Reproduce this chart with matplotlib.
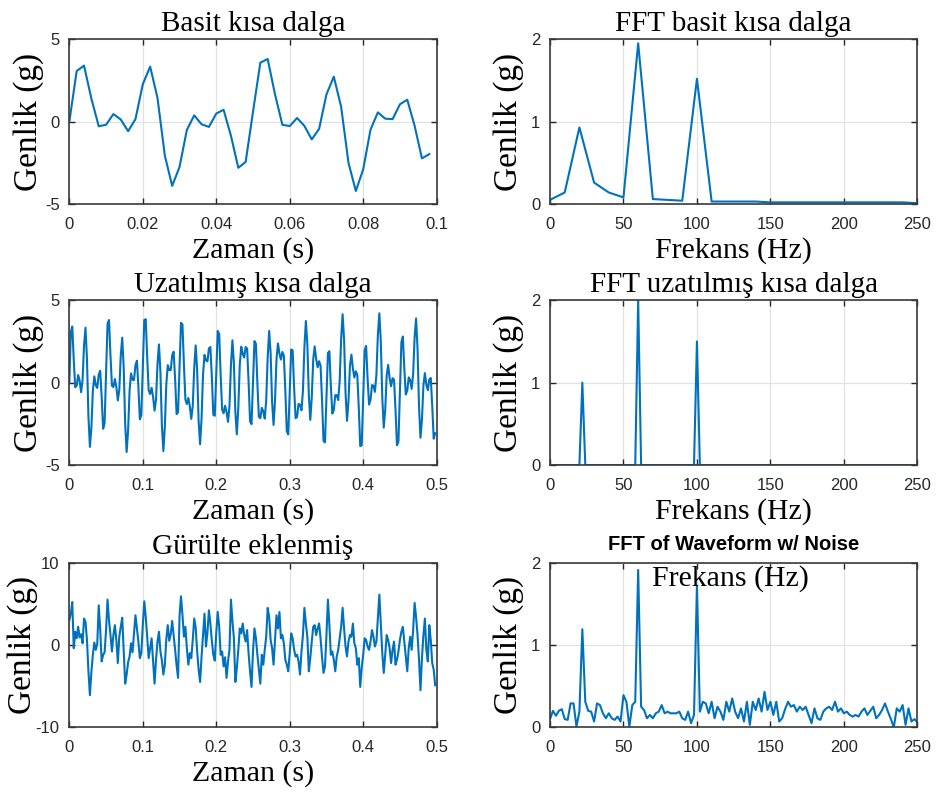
import matplotlib
matplotlib.use('Agg')
import matplotlib.pyplot as plt
import numpy as np

# zaman serileri (g), ornekleme 0.002 s
basit = [0.00, 3.07, 3.40, 1.40, -0.28, -0.19, 0.46, 0.13, -0.58, 0.15,
         2.27, 3.34, 1.44, -2.06, -3.90, -2.75, -0.50, 0.38, -0.16, -0.32,
         0.49, 0.72, -0.86, -2.80, -2.45, 0.59, 3.58, 3.80, 1.65, -0.19,
         -0.27, 0.22, -0.26, -1.08, -0.44, 1.65, 2.73, 0.90, -2.50, -4.21,
         -2.90, -0.48, 0.56, 0.18, 0.15, 1.05, 1.33, -0.25, -2.23, -1.97]

uzun = basit + [
    0.95, 3.80, 3.85, 1.53, -0.47, -0.69, -0.31, -0.86, -1.70, -1.03,
    1.13, 2.32, 0.63, -2.61, -4.15, -2.67, -0.10, 1.06, 0.76, 0.76,
    1.66, 1.88, 0.21, -1.91, -1.80,
    0.95, 3.63, 3.53, 1.07, -1.03, -1.30, -0.93, -1.44, -2.20, -1.41,
    0.90, 2.26, 0.74, -2.34, -3.74, -2.15, 0.49, 1.68, 1.35, 1.29,
    2.08, 2.16, 0.34, -1.95, -2.01,
    0.59, 3.14, 2.95, 0.46, -1.64, -1.86, -1.40, -1.77, -2.38, -1.42,
    1.06, 2.57, 1.18, -1.79, -3.14, -1.53, 1.07, 2.18, 1.74, 1.53,
    2.16, 2.07, 0.08, -2.35, -2.52,
    0.00, 2.52, 2.35, -0.08, -2.07, -2.16, -1.53, -1.74, -2.18, -1.07,
    1.53, 3.14, 1.79, -1.18, -2.57, -1.06, 1.42, 2.38, 1.77, 1.40,
    1.86, 1.64, -0.46, -2.95, -3.14,
    -0.59, 2.01, 1.95, -0.34, -2.16, -2.08, -1.29, -1.35, -1.68, -0.49,
    2.15, 3.74, 2.34, -0.74, -2.26, -0.90, 1.41, 2.20, 1.44, 0.93,
    1.30, 1.03, -1.07, -3.53, -3.63,
    -0.95, 1.80, 1.91, -0.21, -1.88, -1.66, -0.76, -0.76, -1.06, 0.10,
    2.67, 4.15, 2.61, -0.63, -2.32, -1.13, 1.03, 1.70, 0.86, 0.31,
    0.69, 0.47, -1.53, -3.85, -3.80,
    -0.95, 1.97, 2.23, 0.25, -1.33, -1.05, -0.15, -0.18, -0.56, 0.48,
    2.90, 4.21, 2.50, -0.90, -2.73, -1.65, 0.44, 1.08, 0.26, -0.22,
    0.27, 0.19, -1.65, -3.80, -3.58,
    -0.59, 2.45, 2.80, 0.86, -0.72, -0.49, 0.32, 0.16, -0.38, 0.50,
    2.75, 3.90, 2.06, -1.44, -3.34, -2.27, -0.15, 0.58, -0.13, -0.46,
    0.19, 0.28, -1.40, -3.40, -3.07]

gurultulu = [
    3.0, 3.8, 5.2, -0.4, 1.6, 0.8, 2.2, 0.9, 1.3, 0.2,
    3.2, 2.8, 0.6, -3.2, -6.1, -3.3, -1.2, 0.3, -0.6, 0.1,
    4.8, 1.9, -2.0, -1.2, -0.9,
    1.8, 5.5, 3.0, 1.2, -0.8, 1.2, 2.4, 0.6, -2.2, 1.0,
    2.2, 3.3, -0.6, -4.7, -3.6, -2.1, -1.4, 0.2, -0.9, 1.4,
    3.6, 2.0, 0.4, -1.6, -1.0,
    2.4, 5.3, 3.4, 0.9, -1.6, -0.4, 0.8, -2.0, -4.7, -1.8,
    0.4, 1.6, -0.8, -1.9, -3.6, -2.4, 0.7, 2.4, 0.5, 1.3,
    2.9, 1.2, -0.6, -2.5, -4.0,
    3.5, 5.9, 3.6, 1.0, 2.2, -0.4, -2.4, -1.0, -1.6, 0.6,
    3.2, 2.1, -0.8, -3.0, -4.5, -1.4, 1.2, 3.8, -0.2, 1.5,
    4.2, 2.6, 0.5, -1.2, -1.9,
    1.5, 4.0, 2.2, -1.2, -0.8, -2.6, -1.5, -4.0, -2.0, -0.6,
    5.5, 2.9, 0.8, -4.5, -2.8, -0.6, 2.0, 1.4, 2.6, 1.2,
    0.4, 1.8, -1.0, -3.2, -5.1,
    -0.8, 2.0, 0.8, -1.2, -3.0, -4.7, -1.2, -2.4, -0.6, 1.0,
    4.5, 3.4, 0.6, -0.4, -2.4, 0.5, 3.6, 2.0, 4.0, 0.8,
    1.2, 0.2, -1.8, -2.4, -3.2,
    -1.0, 1.4, 0.8, -0.6, -1.4, -1.2, -2.0, -3.6, -0.8, 1.2,
    4.5, 2.6, 1.0, -3.2, -1.6, 0.4, 2.2, 2.4, 1.2, 2.0,
    2.6, 0.8, -1.5, -3.4, -2.6,
    1.2, 5.5, 2.4, -1.2, -0.8, -1.8, -3.2, -1.4, -0.6, 0.8,
    2.2, 4.5, 2.0, -0.2, -1.4, 0.4, 1.2, 1.0, 2.6, 0.2,
    -0.4, -2.4, -1.6, -5.1, -2.8,
    -1.2, 0.8, 0.6, -0.2, -0.6, 0.4, 1.8, 1.0, -0.2, 0.4,
    3.2, 6.1, 2.6, -1.0, -3.4, -1.2, 1.2, 0.6, -0.4, -2.2,
    -0.6, 0.4, -2.4, -1.8, -0.8,
    0.6, 1.6, 2.2, 0.4, -1.4, -3.2, -0.4, 1.0, -0.6, 1.8,
    5.1, 3.4, 1.2, -1.8, -5.5, -1.6, 1.2, 3.2, -0.6, -2.0,
    2.4, 0.6, -2.2, -3.0, -4.9]

# FFT genlikleri
fft_basit = [0.05, 0.14, 0.93, 0.26, 0.14, 0.08, 1.95, 0.06, 0.05, 0.04,
             1.52, 0.03, 0.03, 0.03, 0.03, 0.02, 0.02, 0.02, 0.02, 0.02,
             0.02, 0.02, 0.02, 0.02, 0.02, 0.01]

tepe_frek = [22, 60, 100]
tepe_genlik = [1.0, 2.0, 1.5]

fft_gurultu = [
    0.10, 0.20, 0.14, 0.20, 0.22, 0.10, 0.09, 0.29, 0.29, 0.01,
    0.19, 1.19, 0.31, 0.20, 0.19, 0.07, 0.29, 0.27, 0.17, 0.11,
    0.17, 0.11, 0.09, 0.13, 0.07, 0.39, 0.31, 0.01, 0.27, 0.31,
    1.91, 0.25, 0.21, 0.11, 0.15, 0.11, 0.17, 0.19, 0.27, 0.17,
    0.19, 0.17, 0.17, 0.17, 0.19, 0.11, 0.09, 0.19, 0.05, 0.15,
    1.72, 0.19, 0.31, 0.29, 0.17, 0.31, 0.11, 0.25, 0.19, 0.09,
    0.31, 0.19, 0.35, 0.19, 0.11, 0.23, 0.07, 0.31, 0.03, 0.31,
    0.21, 0.35, 0.19, 0.43, 0.21, 0.31, 0.15, 0.31, 0.07, 0.11,
    0.22, 0.31, 0.25, 0.27, 0.19, 0.25, 0.21, 0.25, 0.15, 0.05,
    0.23, 0.11, 0.09, 0.19, 0.23, 0.25, 0.21, 0.31, 0.19, 0.23,
    0.17, 0.19, 0.15, 0.13, 0.15, 0.13, 0.19, 0.23, 0.15, 0.20,
    0.25, 0.11, 0.15, 0.21, 0.29, 0.19, 0.10, 0.00, 0.23, 0.19,
    0.27, 0.03, 0.23, 0.07, 0.10, 0.06]

t_basit = np.arange(len(basit)) * 0.002
t_uzun = np.arange(len(uzun)) * 0.002
f_basit = np.arange(len(fft_basit)) * 10
f_uzun = np.arange(len(fft_gurultu)) * 2
fft_uzun = np.zeros(len(f_uzun))
for f, a in zip(tepe_frek, tepe_genlik):
    fft_uzun[f // 2] = a

MAVI = '#0072BD'
SERIF = 'Liberation Serif'
SANS = 'Liberation Sans'


def eksen(fig, rect, x, y, xlim, ylim, xticks, xtl, yticks, title,
          xlabel='', bold_title=False, ylab_x=-0.07):
    ax = fig.add_axes(rect)
    ax.plot(x, y, color=MAVI, lw=1.5)
    ax.set_xlim(xlim)
    ax.set_ylim(ylim)
    ax.set_xticks(xticks)
    ax.set_xticklabels(xtl, fontfamily=SANS, fontsize=12)
    ax.set_yticks(yticks)
    ax.set_yticklabels([str(v) for v in yticks], fontfamily=SANS, fontsize=12)
    ax.tick_params(direction='in', length=4, width=1, colors='#262626',
                   top=True, right=True, pad=7)
    ax.tick_params(axis='x', pad=9)
    ax.grid(True, color='#e2e2e2', lw=0.9)
    ax.set_axisbelow(True)
    for s in ax.spines.values():
        s.set_color('#3a3a3a')
        s.set_linewidth(1.2)
    if bold_title:
        ax.set_title(title, fontfamily=SANS, fontsize=14.5, fontweight='bold',
                     pad=9)
    else:
        ax.set_title(title, fontfamily=SERIF, fontsize=21, pad=6)
    ax.set_ylabel('Genlik (g)', fontfamily=SERIF, fontsize=24)
    ax.yaxis.set_label_coords(ylab_x, 0.5)
    if xlabel:
        ax.set_xlabel(xlabel, fontfamily=SERIF, fontsize=21.5, labelpad=4)
    return ax


fig = plt.figure(figsize=(9.37, 7.96), dpi=100)

sol_x, sag_x, gen = 0.074, 0.587, 0.392
alt = [0.7437, 0.4158, 0.0863]
yuk = 0.207

zt1 = [0, 0.02, 0.04, 0.06, 0.08, 0.1]
zt2 = [0, 0.1, 0.2, 0.3, 0.4, 0.5]
ft = [0, 50, 100, 150, 200, 250]

eksen(fig, [sol_x, alt[0], gen, yuk], t_basit, basit, (0, 0.1), (-5, 5),
      zt1, ['0', '0.02', '0.04', '0.06', '0.08', '0.1'], [-5, 0, 5],
      'Basit kısa dalga', 'Zaman (s)')
eksen(fig, [sag_x, alt[0], gen, yuk], f_basit, fft_basit, (0, 250), (0, 2),
      ft, [str(v) for v in ft], [0, 1, 2],
      'FFT basit kısa dalga', 'Frekans (Hz)')
eksen(fig, [sol_x, alt[1], gen, yuk], t_uzun, uzun, (0, 0.5), (-5, 5),
      zt2, ['0', '0.1', '0.2', '0.3', '0.4', '0.5'], [-5, 0, 5],
      'Uzatılmış kısa dalga', 'Zaman (s)')
eksen(fig, [sag_x, alt[1], gen, yuk], f_uzun, fft_uzun, (0, 250), (0, 2),
      ft, [str(v) for v in ft], [0, 1, 2],
      'FFT uzatılmış kısa dalga', 'Frekans (Hz)')
eksen(fig, [sol_x, alt[2], gen, yuk], t_uzun, gurultulu, (0, 0.5), (-10, 10),
      zt2, ['0', '0.1', '0.2', '0.3', '0.4', '0.5'], [-10, 0, 10],
      'Gürülte eklenmiş', 'Zaman (s)', ylab_x=-0.085)
ax6 = eksen(fig, [sag_x, alt[2], gen, yuk], f_uzun, fft_gurultu, (0, 250),
            (0, 2), ft, [str(v) for v in ft], [0, 1, 2],
            'FFT of Waveform w/ Noise', bold_title=True)
ax6.text(0.49, 0.985, 'Frekans (Hz)', transform=ax6.transAxes, ha='center',
         va='top', fontfamily=SERIF, fontsize=21.5)

fig.savefig('out.png', dpi=100)
